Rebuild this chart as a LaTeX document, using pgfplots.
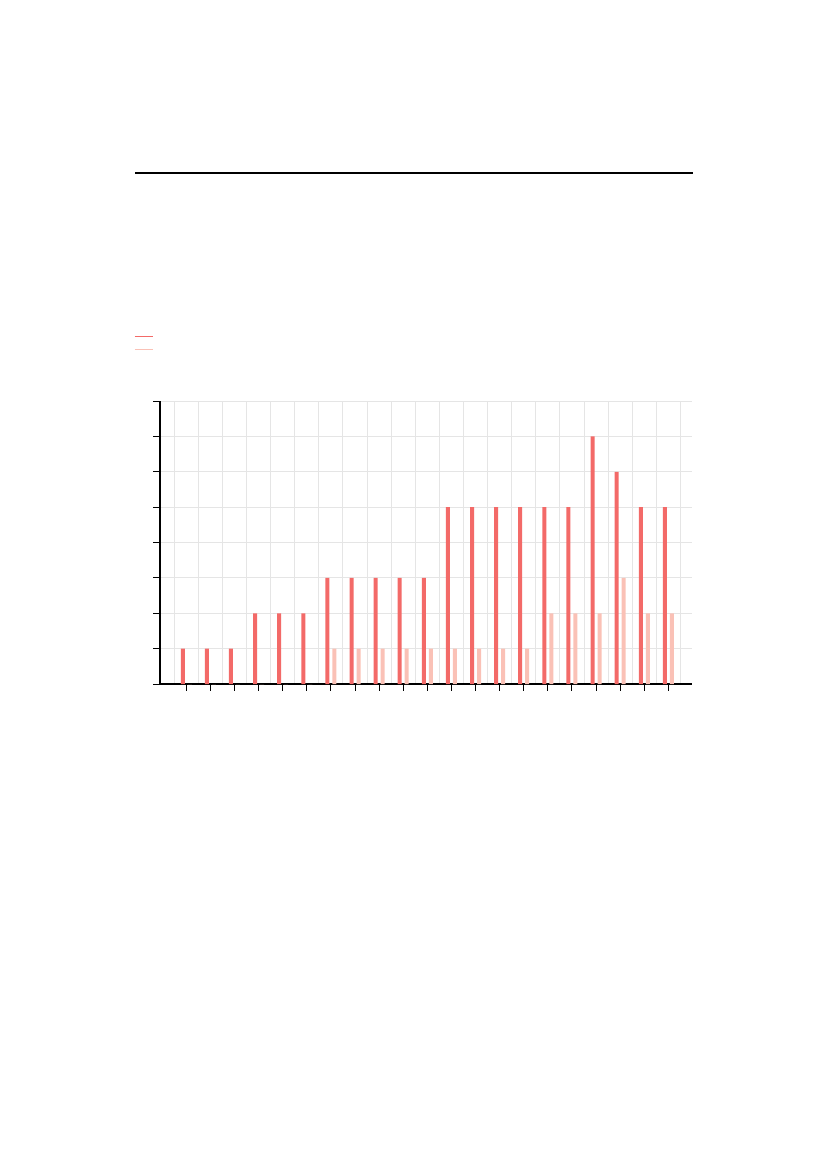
\documentclass[border=0pt]{standalone}
\usepackage{pgfplots}
\pgfplotsset{compat=1.18}

\definecolor{barred}{RGB}{243,106,104}
\definecolor{barpink}{RGB}{250,193,182}
\definecolor{gridgray}{RGB}{229,229,229}

\begin{document}
\begin{tikzpicture}[x=1pt,y=1pt]
  % page frame, 1px = 0.72pt, origin at the top left corner
  \useasboundingbox (0,0) rectangle (595.44,-841.68);
  % rule above the chart
  \draw[line width=1.44pt] (97.2,-124.56) -- (498.6,-124.56);
  \begin{axis}[
    at={(115.2pt,-492.48pt)}, anchor=south west,
    scale only axis,
    width=383.04pt, height=203.76pt,
    xmin=-1.09, xmax=20.98,
    ymin=0, ymax=8,
    ybar=2.16pt, bar width=2.88pt,
    axis lines*=left,
    axis line style={line width=1.1pt},
    xtick=data, xticklabels={},
    ytick={0,1,...,8}, yticklabels={},
    minor xtick={-0.5,0.5,...,20.5},
    xminorgrids, ymajorgrids,
    minor grid style={gridgray, line width=0.7pt},
    major grid style={gridgray, line width=0.7pt},
    tick align=outside,
    major tick length=5pt, minor tick length=0pt,
    tick style={black, line width=0.7pt},
    legend style={at={(-0.0489,1.2304)}, anchor=north west,
      draw=none, fill=none, inner sep=0pt, row sep=7.92pt,
      nodes={inner sep=0pt, text depth=0pt, text height=0pt}},
  ]
  \addplot[fill=barred, draw=none,
    legend image code/.code={\draw[barred, line width=0.72pt] (0pt,0pt) -- (12.96pt,0pt);}]
    coordinates {
    (0,1) (1,1) (2,1) (3,2) (4,2) (5,2) (6,3) (7,3) (8,3) (9,3) (10,3)
    (11,5) (12,5) (13,5) (14,5) (15,5) (16,5) (17,7) (18,6) (19,5) (20,5)};
  \addlegendentry{\mbox{}}
  \addplot[fill=barpink, draw=none,
    legend image code/.code={\draw[barpink, line width=0.72pt] (0pt,0pt) -- (12.96pt,0pt);}]
    coordinates {
    (0,0) (1,0) (2,0) (3,0) (4,0) (5,0) (6,1) (7,1) (8,1) (9,1) (10,1)
    (11,1) (12,1) (13,1) (14,1) (15,2) (16,2) (17,2) (18,3) (19,2) (20,2)};
  \addlegendentry{\mbox{}}
  \end{axis}
\end{tikzpicture}
\end{document}
